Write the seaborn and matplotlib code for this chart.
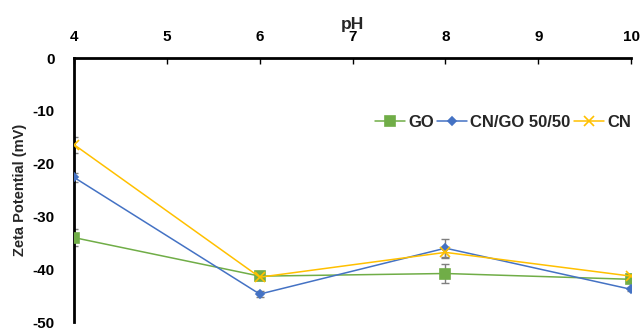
import pandas as pd
import matplotlib.pyplot as plt
import seaborn as sns

# data
ph = [4, 6, 8, 10]
go = [-34.0, -41.3, -40.8, -41.9]
cn_go = [-22.6, -44.7, -36.0, -43.8]
cn = [-16.4, -41.5, -36.8, -41.3]
go_err = [1.6, 0.6, 1.8, 0.5]
cn_go_err = [0.8, 0.5, 1.7, 0.4]
cn_err = [1.5, 0.6, 1.0, 0.5]

series = ['GO', 'CN/GO 50/50', 'CN']
colors = {'GO': '#70AD47', 'CN/GO 50/50': '#4472C4', 'CN': '#FFC000'}
markers = {'GO': 's', 'CN/GO 50/50': 'D', 'CN': 'x'}
msizes = {'GO': 7, 'CN/GO 50/50': 4, 'CN': 7}

df = pd.DataFrame({
    'pH': ph * 3,
    'Zeta': go + cn_go + cn,
    'err': go_err + cn_go_err + cn_err,
    'Sample': [s for s in series for _ in ph],
})

sns.set_theme(style='white')
plt.rcParams['font.family'] = ['Liberation Sans', 'DejaVu Sans']
plt.rcParams['font.weight'] = 'bold'
plt.rcParams['axes.unicode_minus'] = False

fig = plt.figure(figsize=(6.44, 3.30), dpi=100)
ax = fig.add_axes([0.115, 0.024, 0.865, 0.80])

# error bars first (grey caps)
for s in series:
    d = df[df['Sample'] == s]
    ax.errorbar(d['pH'], d['Zeta'], yerr=d['err'], fmt='none',
                ecolor='#7f7f7f', elinewidth=1, capsize=3, capthick=1, zorder=1)

for s in series:
    d = df[df['Sample'] == s]
    sns.lineplot(data=d, x='pH', y='Zeta', color=colors[s], marker=markers[s],
                 markersize=msizes[s], markeredgecolor=colors[s],
                 markeredgewidth=1.2, linewidth=1.1, label=s, ax=ax, zorder=3)

ax.set_xlim(4, 10)
ax.set_ylim(-50, 0)
ax.set_xticks(range(4, 11))
ax.set_yticks(range(-50, 1, 10))
ax.xaxis.tick_top()
ax.xaxis.set_label_position('top')
ax.set_xlabel('pH', fontsize=12.5, fontweight='bold', labelpad=1)
ax.set_ylabel('Zeta Potential (mV)', fontsize=10.5, fontweight='bold', labelpad=4)
ax.tick_params(axis='both', direction='in', length=4, width=1, labelsize=11,
               colors='black')
ax.tick_params(axis='x', pad=10)
ax.tick_params(axis='y', pad=14)
for lab in ax.get_xticklabels() + ax.get_yticklabels():
    lab.set_fontweight('bold')

for side in ['right', 'bottom']:
    ax.spines[side].set_visible(False)
for side in ['top', 'left']:
    ax.spines[side].set_color('black')
    ax.spines[side].set_linewidth(2)

ax.legend(loc='center', bbox_to_anchor=(0.77, 0.757), ncol=3, frameon=False,
          prop={'weight': 'bold', 'size': 12}, handlelength=1.8,
          handletextpad=0.2, columnspacing=0.2, borderpad=0)

fig.savefig('out.png', dpi=100)
